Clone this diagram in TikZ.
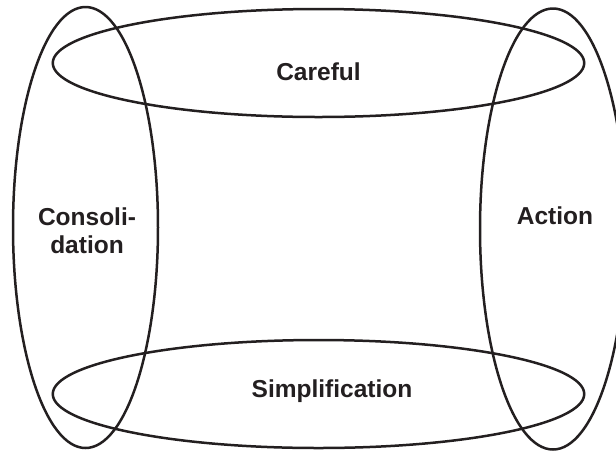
\documentclass[tikz,border=0pt]{standalone}
\usepackage{fontspec}
\setmainfont{Liberation Sans}
\usetikzlibrary{shapes.geometric}
\definecolor{ink}{HTML}{231F20}
\begin{document}
\begin{tikzpicture}[x=1pt,y=-1pt,
  loop/.style={ellipse, draw=ink, line width=2.5pt, inner sep=0pt},
  label/.style={text=ink, font=\fontsize{24.5}{27.7}\selectfont\bfseries, inner sep=0pt, align=center}]
  \useasboundingbox (0,0) rectangle (616,451);
  \clip (0,0) rectangle (616,451);
  % the four overlapping loops
  \node[loop, minimum width=145pt, minimum height=441pt] (consolidation) at (85.5,227.5) {};
  \node[loop, minimum width=146pt, minimum height=441pt] (action) at (553,229) {};
  \node[loop, minimum width=531.5pt, minimum height=108pt] (careful) at (318.5,63) {};
  \node[loop, minimum width=531.5pt, minimum height=108pt] (simplification) at (318.5,394) {};
  % labels
  \node[label, anchor=base] (careful-text) at (318.5,80) {Careful};
  \node[label, anchor=base] (simplification-text) at (332,397) {Simplification};
  \node[label, anchor=base] (action-text) at (555,224) {Action};
  \node[label] (consolidation-text) at (87,230.5) {Consoli-\\dation};
\end{tikzpicture}
\end{document}
